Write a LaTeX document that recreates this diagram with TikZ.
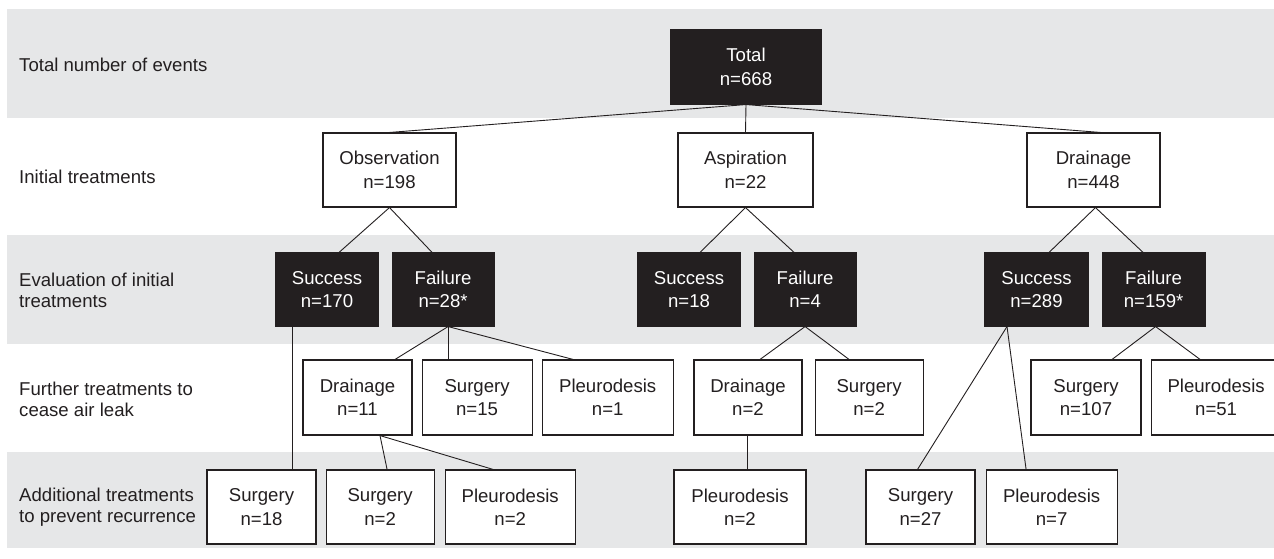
\documentclass[tikz,border=0pt]{standalone}
\usepackage{fontspec}
\setmainfont{Liberation Sans}
\usetikzlibrary{positioning}

\definecolor{bandgray}{HTML}{E6E7E8}
\definecolor{ink}{HTML}{231F20}

\tikzset{
	box/.style = {draw=ink, line width=1.1pt, text=ink, align=center,
		minimum width=#1, inner sep=2pt,
		font=\fontsize{18.6}{23.5}\selectfont},
	box/.default = 109pt,
	leaf/.style = {box=#1, fill=white, minimum height=74pt},
	leaf/.default = 109pt,
	dark/.style = {box=#1, fill=ink, text=white, minimum height=73pt},
	dark/.default = 102pt,
	rowlabel/.style = {anchor=west, align=left, text=ink, inner sep=0pt,
		font=\fontsize{18.6}{20.8}\selectfont},
	link/.style = {draw=ink, line width=0.9pt},
}

\begin{document}
\begin{tikzpicture}[x=1pt, y=-1pt]
		\useasboundingbox (0,0) rectangle (1274,558);
		
		% bands
		\fill[bandgray] (7,9) rectangle (1274,118);
		\fill[bandgray] (7,235) rectangle (1274,344);
		\fill[bandgray] (7,452) rectangle (1274,548);
		
		\node[rowlabel] (lab1) at (19,65) {Total number of events};
		\node[rowlabel] (lab2) at (19,177) {Initial treatments};
		\node[rowlabel] (lab3) at (19,290) {Evaluation of initial\\treatments};
		\node[rowlabel] (lab4) at (19,399) {Further treatments to\\cease air leak};
		\node[rowlabel] (lab5) at (19,507) {Additional treatments\\to prevent recurrence};
		
		% total and initial treatments
		\node[dark=150pt, minimum height=74pt] (tot) at (746,67) {Total\\n=668};
		\node[leaf=133pt] (obs) at (389.5,170) {Observation\\n=198};
		\node[leaf=135pt] (asp) at (745.5,170) {Aspiration\\n=22};
		\node[leaf=133pt] (drn) at (1093.5,170) {Drainage\\n=448};
		
		% evaluation
		\node[dark] (s1) at (327,289.5) {Success\\n=170};
		\node[dark, right = 13pt of s1] (f1) {Failure\\n=28*};
		\node[dark] (s2) at (689,289.5) {Success\\n=18};
		\node[dark, right = 13pt of s2] (f2) {Failure\\n=4};
		\node[dark=103pt] (s3) at (1036.5,289.5) {Success\\n=289};
		\node[dark=103pt, right = 13pt of s3] (f3) {Failure\\n=159*};
		
		% further treatments
		\node[leaf, minimum height=75pt] (fd1) at (357.5,397.5) {Drainage\\n=11};
		\node[leaf=110pt, minimum height=75pt, right = 9pt of fd1] (fs1) {Surgery\\n=15};
		\node[leaf=131pt, minimum height=75pt, right = 9pt of fs1] (fp1) {Pleurodesis\\n=1};
		\node[leaf=108pt, minimum height=75pt] (fd2) at (748,397.5) {Drainage\\n=2};
		\node[leaf=108pt, minimum height=75pt, right = 12pt of fd2] (fs2) {Surgery\\n=2};
		\node[leaf=110pt, minimum height=75pt] (fs3) at (1086,397.5) {Surgery\\n=107};
		\node[leaf=130pt, minimum height=75pt, right = 9pt of fs3] (fp3) {Pleurodesis\\n=51};
		
		% additional treatments
		\node[leaf] (as1) at (261.5,507) {Surgery\\n=18};
		\node[leaf=108pt, right = 9pt of as1] (as2) {Surgery\\n=2};
		\node[leaf=130pt, right = 10pt of as2] (ap2) {Pleurodesis\\n=2};
		\node[leaf=132pt] (ap3) at (740,507) {Pleurodesis\\n=2};
		\node[leaf] (as4) at (920.5,507) {Surgery\\n=27};
		\node[leaf=131pt, right = 10pt of as4] (ap4) {Pleurodesis\\n=7};
		
		% connectors
		\draw[link] (tot.south) -- (obs.north);
		\draw[link] (tot.south) -- (asp.north);
		\draw[link] (tot.south) -- ([xshift=7pt]drn.north);
		
		\draw[link] (obs.south) -- ([xshift=12pt]s1.north);
		\draw[link] (obs.south) -- ([xshift=-11pt]f1.north);
		\draw[link] (asp.south) -- ([xshift=11pt]s2.north);
		\draw[link] (asp.south) -- ([xshift=-11pt]f2.north);
		\draw[link] ([xshift=2pt]drn.south) -- ([xshift=12.5pt]s3.north);
		\draw[link] ([xshift=2pt]drn.south) -- ([xshift=-10.5pt]f3.north);
		
		\draw[link] ([xshift=-35pt]s1.south) -- ([xshift=-35pt]s1.south |- as1.north);
		\draw[link] ([xshift=5pt]f1.south) -- ([xshift=37.5pt]fd1.north);
		\draw[link] ([xshift=5pt]f1.south) -- ([xshift=-29pt]fs1.north);
		\draw[link] ([xshift=5pt]f1.south) -- ([xshift=-34.5pt]fp1.north);
		\draw[link] ([xshift=22.5pt]fd1.south) -- ([xshift=7pt]as2.north);
		\draw[link] ([xshift=22.5pt]fd1.south) -- ([xshift=-17pt]ap2.north);
		
		\draw[link] (f2.south) -- ([xshift=12pt]fd2.north);
		\draw[link] (f2.south) -- ([xshift=-20pt]fs2.north);
		\draw[link] ([xshift=-1pt]fd2.south) -- ([xshift=-1pt]fd2.south |- ap3.north);
		
		\draw[link] ([xshift=-29.5pt]s3.south) -- ([xshift=-3pt]as4.north);
		\draw[link] ([xshift=-29.5pt]s3.south) -- ([xshift=-25.5pt]ap4.north);
		\draw[link] ([xshift=2pt]f3.south) -- ([xshift=26pt]fs3.north);
		\draw[link] ([xshift=2pt]f3.south) -- ([xshift=-16pt]fp3.north);
		
	\end{tikzpicture}
\end{document}
